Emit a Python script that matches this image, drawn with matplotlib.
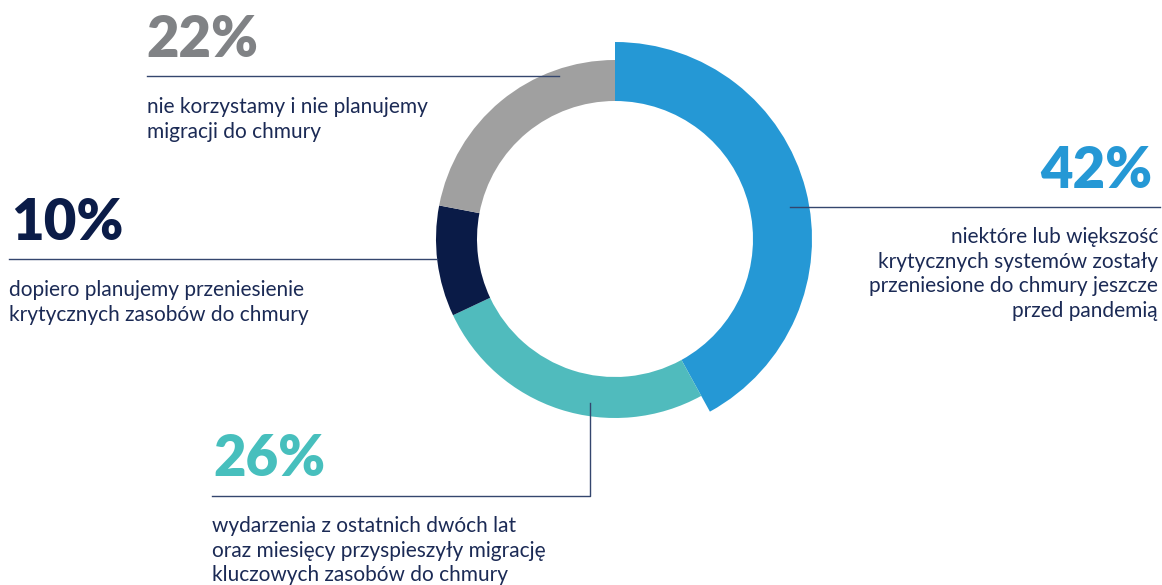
import matplotlib.pyplot as plt

W, H = 1162, 585

# data: clockwise from 12 o'clock
shares = [42, 26, 10, 22]
colors = ["#2598D5", "#50BBBD", "#0A1B47", "#A0A0A0"]
pct_labels = ["42%", "26%", "10%", "22%"]
pct_colors = ["#2598D5", "#47BFBD", "#0B1C48", "#808285"]
descriptions = [
    ["niektóre lub większość", "krytycznych systemów zostały",
     "przeniesione do chmury jeszcze", "przed pandemią"],
    ["wydarzenia z ostatnich dwóch lat", "oraz miesięcy przyspieszyły migrację",
     "kluczowych zasobów do chmury"],
    ["dopiero planujemy przeniesienie", "krytycznych zasobów do chmury"],
    ["nie korzystamy i nie planujemy", "migracji do chmury"],
]

text_col = "#1B2A55"
line_col = "#34466E"
plt.rcParams['font.family'] = ['Lato', 'DejaVu Sans']


def Y(py):
    # pixel row (from top) -> data y
    return H - py


fig = plt.figure(figsize=(W / 100, H / 100), dpi=100)
ax = fig.add_axes([0, 0, 1, 1])

cx, cy = 615, Y(239)
wedges, _ = ax.pie(shares, colors=colors, startangle=90, counterclock=False,
                   radius=179, center=(cx, cy),
                   wedgeprops=dict(width=41, linewidth=0))
# the highlighted share sticks out
wedges[0].set_radius(197)
wedges[0].set_width(59)

ax.set_xlim(0, W)
ax.set_ylim(0, H)
ax.set_aspect('equal')
ax.axis('off')

# leader lines
ax.plot([147, 559], [Y(76), Y(76)], color=line_col, lw=1.0)
ax.plot([9, 437], [Y(259), Y(259)], color=line_col, lw=1.0)
ax.plot([790, 1160], [Y(207), Y(207)], color=line_col, lw=1.0)
ax.plot([590, 590, 212], [Y(403), Y(496), Y(496)], color=line_col, lw=1.0)

# percent labels: (x, baseline, ha)
pct_pos = [(1152, 188, 'right'), (213, 476, 'left'), (11, 240, 'left'), (146, 57, 'left')]
desc_pos = [(1158, 243, 'right'), (212, 532, 'left'), (9, 296, 'left'), (147, 113, 'left')]
step = 24.6

for i in range(len(shares)):
    x, b, ha = pct_pos[i]
    ax.text(x, Y(b), pct_labels[i], color=pct_colors[i], fontsize=40.5,
            fontweight='heavy', ha=ha, va='baseline')
    x, b, ha = desc_pos[i]
    for j, line in enumerate(descriptions[i]):
        ax.text(x, Y(b + j * step), line, color=text_col, fontsize=15,
                ha=ha, va='baseline')

fig.savefig("out.png", dpi=100)
